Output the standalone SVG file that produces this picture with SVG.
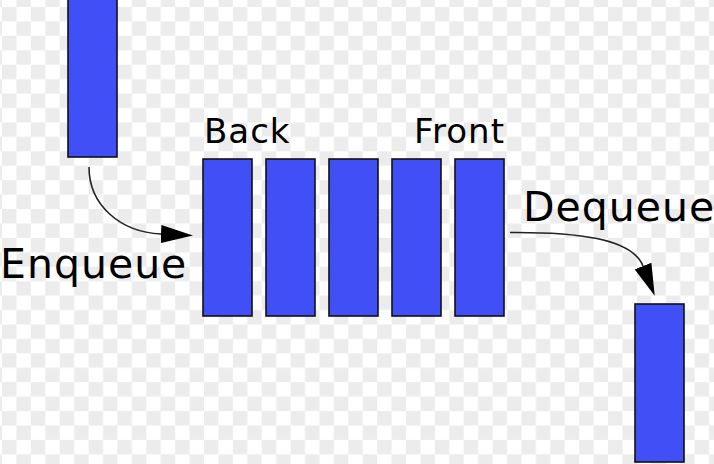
<svg xmlns="http://www.w3.org/2000/svg" width="714" height="464" viewBox="0 0 714 464">
<style>
.box{fill:#4050f6;stroke:#111;stroke-width:1.6}
.lbl{font-family:"DejaVu Sans",sans-serif;fill:#000;letter-spacing:1px}
.conn{fill:none;stroke:#222;stroke-width:1.6}
</style>
<defs>
<pattern id="checker" patternUnits="userSpaceOnUse" x="2" y="7" width="28.86" height="28.86">
<rect width="28.86" height="28.86" fill="#fff"/>
<rect width="14.43" height="14.43" fill="#ececec"/>
<rect x="14.43" y="14.43" width="14.43" height="14.43" fill="#ececec"/>
</pattern>
<marker id="arr" markerUnits="userSpaceOnUse" viewBox="0 0 32 18" refX="0" refY="9" markerWidth="32" markerHeight="18" orient="auto">
<path d="M0,0 L32,9 L0,18 Z" fill="#000"/>
</marker>
</defs>
<rect width="714" height="464" fill="url(#checker)"/>
<g id="in-item"><rect class="box" x="68" y="-2" width="49" height="159"/></g>
<g id="q1"><rect class="box" x="203" y="159" width="49" height="157"/></g>
<g id="q2"><rect class="box" x="266" y="159" width="49" height="157"/></g>
<g id="q3"><rect class="box" x="329" y="159" width="49" height="157"/></g>
<g id="q4"><rect class="box" x="392" y="159" width="49" height="157"/></g>
<g id="q5"><rect class="box" x="455" y="159" width="49" height="157"/></g>
<g id="out-item"><rect class="box" x="635" y="304" width="49" height="158"/></g>
<g id="labels">
<text class="lbl" x="204" y="143" font-size="34">Back</text>
<text class="lbl" x="505" y="143" font-size="34" text-anchor="end">Front</text>
<text class="lbl" x="0" y="278" font-size="41">Enqueue</text>
<text class="lbl" x="523" y="221" font-size="41">Dequeue</text>
</g>
<g id="connectors">
<path class="conn" d="M89,167 C89,205 120,232 161,234" marker-end="url(#arr)"/>
<path class="conn" d="M510,232.5 C575,232 632,238 643,266" marker-end="url(#arr)"/>
</g>
</svg>
